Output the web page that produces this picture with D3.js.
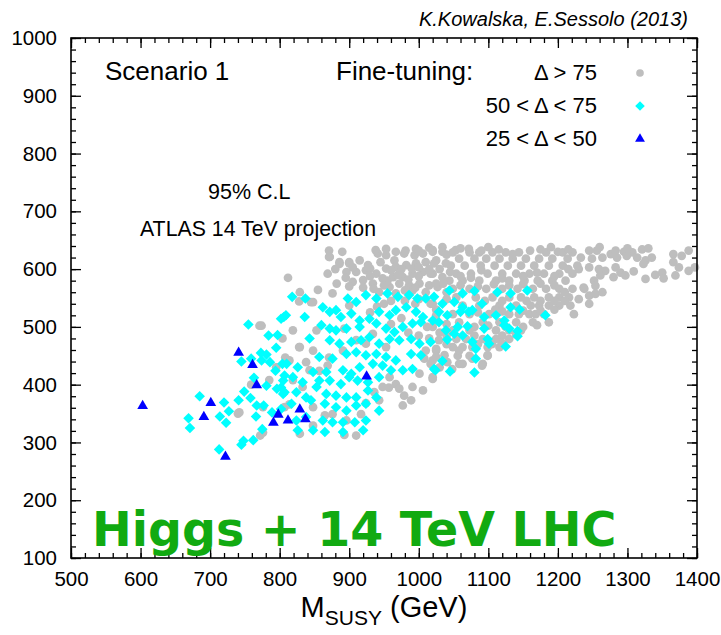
<!DOCTYPE html>
<html>
<head>
<meta charset="utf-8">
<script src="https://cdn.jsdelivr.net/npm/d3@7"></script>
<style>
  body { margin: 0; background: #fff; }
  text { font-family: "Liberation Sans", Arial, sans-serif; fill: #000; }
</style>
</head>
<body>
<div id="displaybox"></div>
<script>
// axis ticks
const xTicks = [500, 600, 700, 800, 900, 1000, 1100, 1200, 1300, 1400];
const yTicks = [100, 200, 300, 400, 500, 600, 700, 800, 900, 1000];

// Delta > 75 (grey dots): [M_SUSY, y]
const grayPts = [
  [1245,632],[1256,632],[1233,620],[1249,618],[1264,620],[1276,626],[1283,632],[1295,630],[1307,629],[1321,634],
  [1285,620],[1299,623],[1314,620],[1326,615],[1335,620],[1366,626],[1378,623],[1388,632],[1366,612],[1374,603],
  [1388,597],[1397,603],[1230,600],[1245,603],[1259,600],[1268,597],[1283,603],[1290,594],[1280,586],[1297,589],
  [1309,596],[1323,609],[1326,583],[1340,590],[1350,594],[1352,584],[1369,589],[1237,568],[1252,580],[1261,589],
  [1254,571],[1245,554],[1245,540],[1254,557],[1264,560],[1223,522],
  [1049,629],[1073,629],[1087,629],[1106,629],[1125,629],[1144,629],[1183,629],[1207,629],[1221,629],
  [1058,618],[1080,618],[1097,618],[1116,618],[1135,618],[1154,618],[1173,618],[1192,618],[1214,618],
  [1046,606],[1066,606],[1089,606],[1109,606],[1128,606],[1147,606],[1166,606],[1187,606],[1207,606],[1228,606],
  [1054,592],[1075,592],[1099,592],[1120,592],[1140,592],[1159,592],[1180,592],[1202,592],[1221,592],
  [1044,580],[1063,580],[1087,580],[1111,580],[1130,580],[1152,580],[1171,580],[1192,580],[1211,580],
  [1049,566],[1073,566],[1097,566],[1120,566],[1142,566],[1164,566],[1183,566],[1202,566],[1221,566],[1238,566],
  [1054,551],[1082,551],[1106,551],[1130,551],[1147,551],[1166,551],[1187,551],[1202,551],[1216,551],
  [1063,537],[1087,537],[1116,537],[1140,537],[1161,537],[1173,537],[1187,537],[1202,537],[1218,537],
  [1049,522],[1073,522],[1101,522],[1130,522],[1144,522],[1159,522],[1168,522],[1180,522],
  [1058,508],[1092,508],[1116,508],[1140,508],[1164,508],[1187,508],
  [1049,494],[1073,494],[1111,494],[1130,494],[1147,494],
  [1054,479],[1068,479],[1092,479],[1111,479],[1130,479],
  [1049,465],[1063,465],[1077,465],[1099,465],[1116,465],
  [1056,450],[1073,450],[1099,450],[1058,436],[1092,436],
  [1100,638],[1190,638],[1260,638],[1300,636],[1330,636],
  [1020,633],[1034,638],[1025,615],[1039,610],[1020,592],[1034,586],[1027,569],[1017,540],[1020,500],[1025,459],
  [1020,442],[1020,413],[1037,451],[1029,477],[1058,459],[1063,436],[1077,445],[1091,433],[1099,451],[1041,439],
  [1048,427],[1030,600],[1040,560],[1025,530],[1040,505],[1030,490],[1040,470],
  [872,621],[886,612],[900,610],[915,615],[927,607],[941,627],[953,624],[965,615],[979,627],[994,624],
  [1006,627],[1020,630],[896,595],[910,595],[924,598],[939,592],[953,601],[967,604],[982,607],[996,610],
  [1010,612],[1022,610],[920,581],[934,575],[948,584],[963,586],[977,586],[991,592],[1006,595],[1017,592],
  [958,569],[972,575],[986,572],[1001,575],[1015,572],[1025,575],[943,560],[967,558],[991,563],[1010,560],
  [871,632],[890,630],[938,633],[953,635],[967,630],[981,632],[996,635],[1015,637],[1034,630],[1053,633],[1072,635],
  [871,621],[886,609],[869,592],[900,612],
  [1000,632],[1040,625],[1060,636],[1090,632],[1115,634],[1135,626],[1160,632],[1175,634],[1200,630],[1215,634],
  [880,600],[905,603],[930,601],[945,612],[960,598],[975,600],[990,601],[1000,603],[1015,600],
  [895,585],[905,578],[930,588],[955,580],[970,590],[985,582],[1000,588],[1045,595],[1060,588],[1075,585],
  [1090,598],[1120,584],[1150,588],[1170,594],[1195,588],[1215,600],
  [900,570],[920,568],[935,566],[950,572],[980,563],[995,568],[1035,575],[1060,572],[1085,570],[1108,574],
  [1130,572],[1150,574],[1175,575],[1195,572],[1210,560],
  [960,545],[980,545],[1000,548],[1040,548],[1095,545],[1120,545],[1155,545],[1175,545],[1195,545],[1210,545],[1230,548],
  [1085,525],[1110,530],[1120,527],[1150,528],[1175,528],[1195,530],
  [1080,500],[1100,502],[1125,500],[1150,500],[1170,503],
  [1040,485],[1080,485],[1120,485],[1140,487],[1085,470],[1105,470],[1120,472],
  [812,585],[855,564],[882,575],[876,558],[848,543],[900,537],[829,560],
  [819,494],[853,494],[893,497],[910,477],[869,433],[924,471],[934,488],[953,465],[891,459],
  [950,540],[975,515],[995,540],[1012,500],[985,490],[960,505],[1000,485],[940,535],[1020,540],[1025,520],[930,525],
  [1015,480],[1025,462],[1008,445],[1030,430],
  [967,401],[979,381],[989,373],[1006,390],[1020,410],[991,396],[972,393],[958,413],[1001,419],[1017,436],
  [1010,459],[1025,448],[948,396],[936,387],[977,364],[943,373],
  [810,442],[829,465],[843,425],[833,396],[848,361],[865,347],[876,349],[896,338],[910,312],[848,329],
  [807,361],[829,315],[917,349],
  [828,544],[845,543],[771,502],[828,465],[814,442],[838,439],[848,459],[742,352],[814,366],[857,424],
  [871,447],[819,408],[776,317],[893,313],[924,368],[957,395],
  [774,502],[804,480],[785,408],[759,400],[740,350],[772,312],[776,361],[795,430],[808,447]
];

// 50 < Delta < 75 (cyan diamonds)
const cyanPts = [
  [755,504],[784,485],[797,486],[795,464],[773,455],[781,452],[745,440],[759,445],[774,442],[786,439],
  [794,424],[804,436],[807,416],[763,412],[781,398],[796,393],[749,388],[741,373],[758,377],[720,369],
  [727,354],[714,345],[723,334],[685,380],[669,342],[671,325],[767,364],[777,364],[766,345],[775,323],
  [748,303],[762,304],[745,296],[713,288],[802,395],[805,384],[809,520],[802,514],[789,352],[802,358],
  [818,552],[837,549],[806,517],[836,517],[862,534],[872,526],[881,529],[898,549],[910,543],[924,555],
  [939,549],[955,558],[970,552],[986,555],[998,549],[1010,549],[888,517],[903,523],[915,511],[929,514],
  [943,526],[958,520],[967,529],[982,534],[996,526],[1006,517],[860,503],[872,497],[881,494],[896,497],
  [915,500],[939,506],[953,497],[965,491],[977,500],[991,506],[1003,508],[1020,511],[843,480],[872,477],
  [886,471],[903,474],[917,477],[929,482],[943,471],[958,479],[972,477],[989,479],[1001,471],[1017,474],
  [857,448],[876,445],[896,453],[910,456],[924,451],[939,453],[953,448],[967,442],[989,453],[1003,451],
  [810,436],[826,430],[848,422],[867,422],[891,425],[903,419],[915,430],[934,436],[948,433],[960,425],
  [977,425],[991,427],[1022,427],[805,407],[819,413],[833,404],[857,407],[872,407],[888,401],[900,413],
  [912,407],[927,404],[943,413],[807,387],[824,387],[838,378],[853,396],[867,384],[881,381],[896,378],
  [910,378],[927,390],[939,378],[817,367],[845,373],[865,367],[881,361],[896,355],[910,364],[924,367],
  [943,355],[824,338],[838,344],[862,338],[876,335],[891,335],[908,335],[924,338],[826,321],[848,321],
  [865,318],[891,318],[920,321],
  [1044,563],[1022,552],[1063,558],[1080,562],[1113,560],[1132,558],[1156,563],[1034,540],[1051,543],[1063,534],
  [1077,529],[1091,540],[1132,534],[1145,530],[1182,520],[1029,526],[1041,520],[1060,526],[1072,526],[1094,517],
  [1111,520],[1123,511],[1029,508],[1056,500],[1070,501],[1094,497],[1123,503],[1130,497],[1142,493],[1039,494],
  [1051,488],[1063,485],[1099,479],[1142,484],[1041,478],[1077,474],[1101,471],[1082,462],[1125,466],[1082,445],
  [1034,441],[1045,423],[1024,425],[1080,421]
];

// 25 < Delta < 50 (blue triangles)
const bluePts = [
  [603,365],[691,346],[701,370],[722,277],[741,457],[761,436],[767,401],
  [791,336],[798,350],[812,340],[829,359],[837,342],[925,416]
];

const legendItems = ["\u0394 > 75", "50 < \u0394 < 75", "25 < \u0394 < 50"];

let margin = {top: 38, right: 24, bottom: 77, left: 71};
let width = 721 - margin.left - margin.right;
let height = 635 - margin.top - margin.bottom;

let svg = d3.select("#displaybox")
  .append("svg")
    .attr("width", 721)
    .attr("height", 635);
let g = svg.append("g")
  .attr("transform", `translate(${margin.left}, ${margin.top})`);

let x = d3.scaleLinear().domain([500, 1400]).range([0, width]);
let y = d3.scaleLinear().domain([100, 1000]).range([height, 0]);

let minorX = d3.range(500, 1401, 20);
let minorY = d3.range(100, 1001, 20);

function styleAxis(sel) {
  sel.select(".domain").remove();
  sel.selectAll("line").attr("stroke", "#000").attr("stroke-width", 1.3);
  sel.selectAll("text").style("font-size", "20.5px").attr("fill", "#000")
    .style("font-family", "'Liberation Sans', Arial, sans-serif");
}

// major / minor ticks, all pointing inward
g.append("g").attr("transform", `translate(0,${height})`)
  .call(d3.axisBottom(x).tickValues(minorX).tickSize(-5).tickFormat(""))
  .call(styleAxis);
g.append("g").attr("transform", `translate(0,${height})`)
  .call(d3.axisBottom(x).tickValues(xTicks).tickSize(-10).tickPadding(13).tickFormat(d3.format("d")))
  .call(styleAxis);
g.append("g")
  .call(d3.axisTop(x).tickValues(minorX).tickSize(-5).tickFormat(""))
  .call(styleAxis);
g.append("g")
  .call(d3.axisTop(x).tickValues(xTicks).tickSize(-10).tickFormat(""))
  .call(styleAxis);
g.append("g")
  .call(d3.axisLeft(y).tickValues(minorY).tickSize(-5).tickFormat(""))
  .call(styleAxis);
g.append("g")
  .call(d3.axisLeft(y).tickValues(yTicks).tickSize(-10).tickPadding(14).tickFormat(d3.format("d")))
  .call(styleAxis);
g.append("g").attr("transform", `translate(${width},0)`)
  .call(d3.axisRight(y).tickValues(minorY).tickSize(-5).tickFormat(""))
  .call(styleAxis);
g.append("g").attr("transform", `translate(${width},0)`)
  .call(d3.axisRight(y).tickValues(yTicks).tickSize(-10).tickFormat(""))
  .call(styleAxis);

// points
let circle = d3.symbol().type(d3.symbolCircle).size(60);
let diamond = d3.symbol().type(d3.symbolSquare).size(56);
let tri = d3.symbol().type(d3.symbolTriangle).size(50);

g.append("g").selectAll("path").data(grayPts)
  .enter().append("path")
    .attr("d", circle)
    .attr("transform", d => `translate(${x(d[0])},${y(d[1])})`)
    .attr("fill", "#bebebe");
g.append("g").selectAll("path").data(cyanPts)
  .enter().append("path")
    .attr("d", diamond)
    .attr("transform", d => `translate(${x(d[0])},${y(d[1])}) rotate(45)`)
    .attr("fill", "#00ffff");
g.append("g").selectAll("path").data(bluePts)
  .enter().append("path")
    .attr("d", tri)
    .attr("transform", d => `translate(${x(d[0])},${y(d[1]) + 1})`)
    .attr("fill", "#0000ff");

// frame
g.append("rect")
  .attr("width", width).attr("height", height)
  .attr("fill", "none").attr("stroke", "#000").attr("stroke-width", 1.6);

// texts
svg.append("text").attr("x", 688).attr("y", 26).attr("text-anchor", "end")
  .style("font-size", "20px").style("font-style", "italic")
  .text("K.Kowalska, E.Sessolo (2013)");

svg.append("text").attr("x", 105).attr("y", 80).style("font-size", "26px").text("Scenario 1");
svg.append("text").attr("x", 336).attr("y", 80).style("font-size", "26px").text("Fine-tuning:");

let legendShapes = [
  d3.symbol().type(d3.symbolCircle).size(46),
  d3.symbol().type(d3.symbolSquare).size(46),
  d3.symbol().type(d3.symbolTriangle).size(42)
];
let legendColors = ["#bebebe", "#00ffff", "#0000ff"];
legendItems.forEach((t, i) => {
  let by = 80 + i * 33;
  svg.append("text").attr("x", 597).attr("y", by).attr("text-anchor", "end")
    .style("font-size", "22px").text(t);
  svg.append("path").attr("d", legendShapes[i])
    .attr("transform", `translate(640,${by - 7})` + (i === 1 ? " rotate(45)" : ""))
    .attr("fill", legendColors[i]);
});

svg.append("text").attr("x", 208).attr("y", 199).style("font-size", "21.5px").text("95% C.L");
svg.append("text").attr("x", 140).attr("y", 236).style("font-size", "21.3px").text("ATLAS 14 TeV projection");

svg.append("text").attr("x", 92).attr("y", 546)
  .style("font-family", "'DejaVu Sans', sans-serif").style("font-weight", "bold")
  .style("font-size", "47.5px").style("fill", "#11aa11")
  .text("Higgs + 14 TeV LHC");

let xt = svg.append("text").attr("x", 384).attr("y", 617).attr("text-anchor", "middle")
  .style("font-size", "29px");
xt.append("tspan").text("M");
xt.append("tspan").attr("dy", 8).style("font-size", "21px").text("SUSY");
xt.append("tspan").attr("dy", -8).text(" (GeV)");
</script>
</body>
</html>
